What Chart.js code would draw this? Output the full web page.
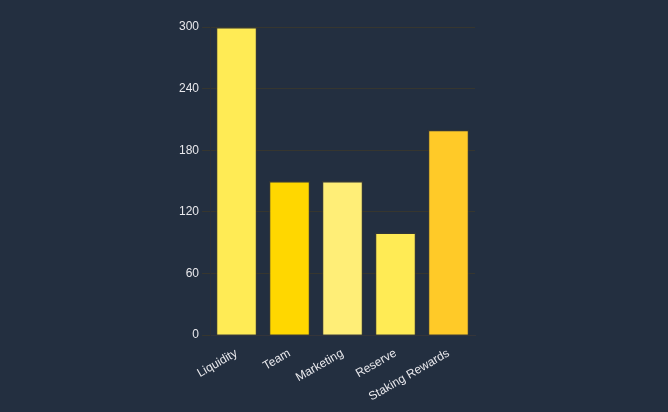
<!DOCTYPE html>
<html>
<head>
<meta charset="utf-8">
<script src="https://cdn.jsdelivr.net/npm/chart.js@4.4.0/dist/chart.umd.min.js"></script>
<style>
  html, body { margin: 0; padding: 0; background: #232f40; }
  #wrap { position: relative; width: 668px; height: 412px; }
</style>
</head>
<body>
<div id="wrap"><canvas id="allocationChart"></canvas></div>
<script>
// Token allocation data
const categories = ['Liquidity', 'Team', 'Marketing', 'Reserve', 'Staking Rewards'];
const amounts = [300, 150, 150, 100, 200];
const barColors = ['#FFEB55', '#FFD700', '#FFEE77', '#FFEB55', '#FFCA28'];
const yTicks = [0, 60, 120, 180, 240, 300];

document.addEventListener('DOMContentLoaded', function() {
    const ctx = document.getElementById('allocationChart').getContext('2d');

    new Chart(ctx, {
        type: 'bar',
        data: {
            labels: categories,
            datasets: [{
                label: 'Allocation',
                data: amounts,
                backgroundColor: barColors,
                borderColor: 'rgba(60, 60, 50, 0.6)',
                borderWidth: 1.5,
                barPercentage: 0.98
            }]
        },
        options: {
            responsive: true,
            maintainAspectRatio: false,
            animation: false,
            layout: {
                padding: { left: 176, right: 193, top: 27, bottom: 5 }
            },
            plugins: {
                legend: { display: false },
                tooltip: { enabled: false }
            },
            scales: {
                x: {
                    grid: { display: false },
                    border: { color: '#34353a' },
                    ticks: {
                        color: '#e8e8ec',
                        font: { size: 12 },
                        minRotation: 30,
                        maxRotation: 30
                    }
                },
                y: {
                    min: 0,
                    max: 300,
                    afterBuildTicks: function(axis) {
                        axis.ticks = yTicks.map(v => ({ value: v }));
                    },
                    grid: { color: '#36362f' },
                    border: { color: '#2a3038' },
                    ticks: {
                        color: '#e8e8ec',
                        font: { size: 12 }
                    }
                }
            }
        }
    });
});
</script>
</body>
</html>
